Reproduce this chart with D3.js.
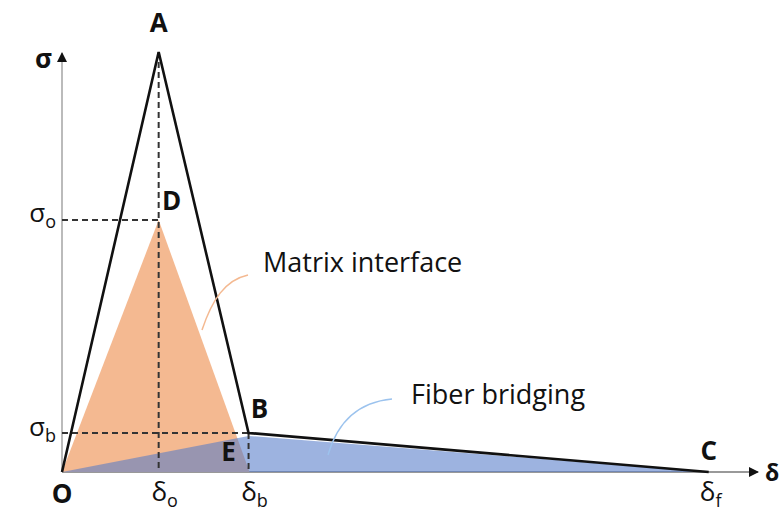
<!DOCTYPE html>
<html>
<head>
<meta charset="utf-8">
<script src="https://cdn.jsdelivr.net/npm/d3@7"></script>
<style>
body { margin: 0; background: #fff; }
text { font-family: "Open Sans", Lato, sans-serif; fill: #111; }
</style>
</head>
<body>
<script>
// key points of the bilinear cohesive law (delta, sigma), sigma normalised to peak
var deltaKeys = [0, 1.0, 1.93, 6.69];      // O, delta_o, delta_b, delta_f
var sigmaKeys = [0, 1.0, 0.6, 0.093, 0.086]; // O, A, D (sigma_o), B (sigma_b), E
var outline = [[0, 0], [1.0, 1.0], [1.93, 0.093], [6.69, 0]];   // O-A-B-C
var matrixTri = [[0, 0], [1.0, 0.6], [1.94, 0]];                // orange
var fiberTri = [[0, 0], [1.93, 0.086], [6.69, 0]];              // blue
var pointLabels = [
  {t: "A", d: 1.0, s: 1.0, dx: 0, dy: -20},
  {t: "D", d: 1.0, s: 0.6, dx: 13, dy: -10},
  {t: "B", d: 1.93, s: 0.093, dx: 11, dy: -15},
  {t: "E", d: 1.93, s: 0.0, dx: -20, dy: -11},
  {t: "C", d: 6.69, s: 0.0, dx: 0, dy: -12},
  {t: "O", d: 0, s: 0, dx: 0, dy: 31}
];

var w = 782, h = 513;
var x = d3.scaleLinear().domain([0, 7.2]).range([62, 758]);
var y = d3.scaleLinear().domain([0, 1]).range([472, 52]);

var svg = d3.select("body").append("svg")
    .attr("width", w)
    .attr("height", h);

var defs = svg.append("defs");
defs.append("marker")
    .attr("id", "arrow")
    .attr("viewBox", "0 0 10 10")
    .attr("refX", 9).attr("refY", 5)
    .attr("markerWidth", 10).attr("markerHeight", 10)
    .attr("markerUnits", "userSpaceOnUse")
    .attr("orient", "auto")
    .append("path")
    .attr("d", "M0,0L10,5L0,10z")
    .style("fill", "#111");

var line = d3.line().x(function(d) { return x(d[0]); }).y(function(d) { return y(d[1]); });

// axes
svg.append("line")
    .attr("x1", x(0)).attr("y1", y(0))
    .attr("x2", x(0)).attr("y2", y(1) + 1)
    .style("stroke", "#bbb").style("stroke-width", 2)
    .attr("marker-end", "url(#arrow)");
svg.append("line")
    .attr("x1", x(0)).attr("y1", y(0))
    .attr("x2", x(7.2)).attr("y2", y(0))
    .style("stroke", "#999").style("stroke-width", 2)
    .attr("marker-end", "url(#arrow)");

// filled areas
svg.append("path")
    .attr("d", line(matrixTri) + "Z")
    .style("fill", "#f4b991");
svg.append("path")
    .attr("d", line(fiberTri) + "Z")
    .style("fill", "#537ac8")
    .style("fill-opacity", 0.57);

// dashed guides
var dash = [
  [[0, sigmaKeys[2]], [deltaKeys[1], sigmaKeys[2]]],
  [[deltaKeys[1], sigmaKeys[1]], [deltaKeys[1], 0]],
  [[0, sigmaKeys[3]], [deltaKeys[2], sigmaKeys[3]]],
  [[deltaKeys[2], sigmaKeys[3]], [deltaKeys[2], 0]]
];
svg.selectAll(".dash").data(dash).enter().append("path")
    .attr("class", "dash")
    .attr("d", line)
    .style("stroke", "#333").style("stroke-width", 2)
    .style("stroke-dasharray", "6,4")
    .style("fill", "none");

// outline O-A-B-C
svg.append("path")
    .attr("d", line(outline))
    .style("stroke", "#111").style("stroke-width", 2.6)
    .style("stroke-linejoin", "miter")
    .style("fill", "none");

// leader curves
svg.append("path")
    .attr("d", "M202,330 C212,300 225,280 248,275")
    .style("stroke", "#f4b991").style("stroke-width", 1.5).style("fill", "none");
svg.append("path")
    .attr("d", "M328,455 C338,420 360,402 392,399")
    .style("stroke", "#9cc3ee").style("stroke-width", 1.3).style("fill", "none");

// point labels
svg.selectAll(".pl").data(pointLabels).enter().append("text")
    .attr("class", "pl")
    .attr("x", function(d) { return x(d.d) + d.dx; })
    .attr("y", function(d) { return y(d.s) + d.dy; })
    .attr("text-anchor", "middle")
    .style("font-size", "26px")
    .style("font-weight", "bold")
    .text(function(d) { return d.t; });

// axis symbol labels with subscripts
function symLabel(px, py, main, sub, anchor, bold, size) {
  var t = svg.append("text")
      .attr("x", px).attr("y", py)
      .attr("text-anchor", anchor)
      .style("font-size", (size || 26) + "px")
      .style("font-weight", bold ? "bold" : "normal");
  t.append("tspan").text(main);
  if (sub) t.append("tspan").attr("dy", 6).style("font-size", "18px").text(sub);
}
symLabel(x(0) - 10, y(1) + 16, "σ", null, "end", true);
symLabel(x(0) - 6, y(sigmaKeys[2]) + 2, "σ", "o", "end", false);
symLabel(x(0) - 6, y(sigmaKeys[3]) + 3, "σ", "b", "end", false);
symLabel(x(deltaKeys[1]) + 6, y(0) + 29, "δ", "o", "middle", false);
symLabel(x(deltaKeys[2]) + 6, y(0) + 29, "δ", "b", "middle", false);
symLabel(x(deltaKeys[3]) + 2, y(0) + 29, "δ", "f", "middle", false);
symLabel(x(7.2) + 7, y(0) + 9, "δ", null, "start", true, 23);

// annotations
svg.append("text")
    .attr("x", 263).attr("y", 272)
    .style("font-size", "27px")
    .text("Matrix interface");
svg.append("text")
    .attr("x", 411).attr("y", 404)
    .style("font-size", "27px")
    .text("Fiber bridging");
</script>
</body>
</html>
